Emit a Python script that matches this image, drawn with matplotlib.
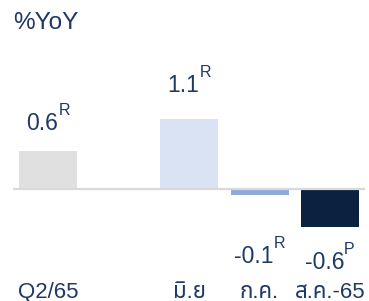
import matplotlib
matplotlib.use("Agg")
import matplotlib.pyplot as plt

# ---- data ----
categories = ["Q2/65", "มิ.ย", "ก.ค.", "ส.ค.-65"]
slots = [0, 2, 3, 4]          # category slot on the x axis (slot 1 left empty)
values = [0.6, 1.1, -0.1, -0.6]
value_labels = ["0.6", "1.1", "-0.1", "-0.6"]
flags = ["R", "R", "R", "P"]
bar_colors = ["#e0e0e0", "#dae3f3", "#8eaadb", "#0a2140"]
title = "%YoY"

TXT = "#1f3864"
FAM = ["Liberation Sans", "Noto Sans Thai", "DejaVu Sans"]
plt.rcParams["font.family"] = FAM

W, H = 369, 301
fig = plt.figure(figsize=(W / 100, H / 100), dpi=100)
ax = fig.add_axes([0, 0, 1, 1])
ax.set_xlim(-0.681, 4.553)
ax.set_ylim(-1.769, 2.986)
ax.axis("off")

ax.bar(slots, values, width=0.823, color=bar_colors, zorder=2)
ax.plot([-0.497, 4.496], [0, 0], color="#d9d9d9", lw=1.6, zorder=3,
        solid_capstyle="butt")

for s, v, lab, f in zip(slots, values, value_labels, flags):
    if v >= 0:
        off = 9.6 + 54.7 * v
    else:
        off = -(53.4 + 8.6 * (abs(v) - 0.1))
    main = ax.annotate(lab, (s, 0), xytext=(-4, off), textcoords="offset points",
                       ha="center", va="baseline", fontsize=16.5, color=TXT)
    ax.annotate(f, xy=(1, 1), xycoords=main, xytext=(0, 6.3),
                textcoords="offset points", ha="left", va="top",
                fontsize=11.5, color=TXT)

for s, c in zip(slots, categories):
    ax.annotate(c, (s, ax.get_ylim()[0]), xytext=(0, 2.5), textcoords="offset points",
                ha="center", va="baseline", fontsize=16, color=TXT, fontweight="light")

fig.text(13 / W, 1 - 29 / H, title, ha="left", va="baseline", fontsize=17.5, color=TXT)

fig.savefig("out.png", dpi=100)
